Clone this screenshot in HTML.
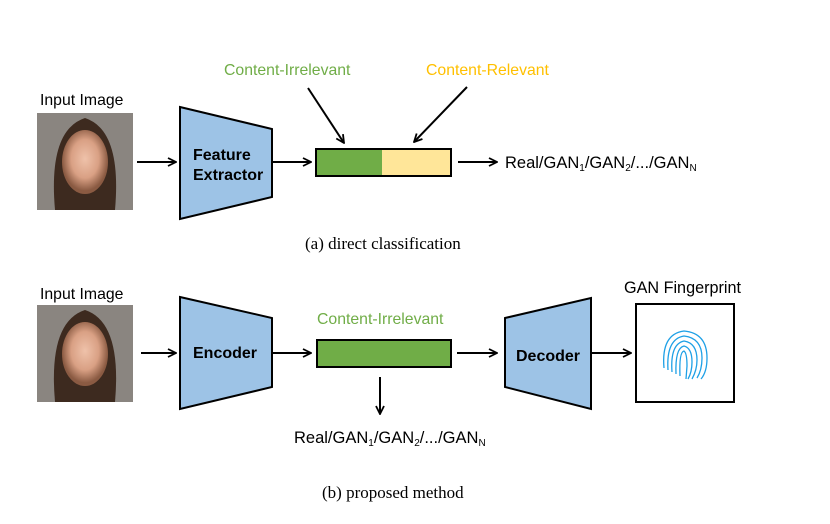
<!DOCTYPE html>
<html><head><style>
body{margin:0;background:#fff}
svg text{font-family:"Liberation Sans",sans-serif}
</style></head><body>
<svg width="830" height="519" viewBox="0 0 830 519" xmlns="http://www.w3.org/2000/svg">
<defs>
<marker id="a" markerWidth="10" markerHeight="10" refX="9" refY="5" orient="auto" markerUnits="userSpaceOnUse"><path d="M1,1 L9,5 L1,9" fill="none" stroke="#000" stroke-width="1.8"/></marker>
<radialGradient id="f" cx="50%" cy="45%" r="50%"><stop offset="0" stop-color="#efc2aa"/><stop offset="0.6" stop-color="#d9a084"/><stop offset="1" stop-color="#8a5a42"/></radialGradient>
</defs>
<g font-size="15.8">
<text x="40" y="105">Input Image</text>
<rect x="37" y="113" width="96" height="97" fill="#8a8580"/>
<path d="M55,210 Q48,130 85,118 Q122,130 115,210 Z" fill="#3d2a1f"/>
<ellipse cx="85" cy="162" rx="23" ry="32" fill="url(#f)"/>
<line x1="137" y1="162" x2="176" y2="162" stroke="#000" stroke-width="2" marker-end="url(#a)"/>
<polygon points="180,107 272,129 272,197 180,219" fill="#9dc3e6" stroke="#000" stroke-width="2"/>
<text x="193" y="160" font-weight="bold" font-size="16">Feature</text>
<text x="193" y="180" font-weight="bold" font-size="16">Extractor</text>
<line x1="273" y1="162" x2="311" y2="162" stroke="#000" stroke-width="2" marker-end="url(#a)"/>
<rect x="316" y="149" width="66" height="27" fill="#70ad47"/>
<rect x="382" y="149" width="69" height="27" fill="#ffe699"/>
<rect x="316" y="149" width="135" height="27" fill="none" stroke="#000" stroke-width="2"/>
<text x="224" y="75" fill="#70ad47">Content-Irrelevant</text>
<text x="426" y="75" fill="#ffc000">Content-Relevant</text>
<line x1="308" y1="88" x2="344" y2="143" stroke="#000" stroke-width="2" marker-end="url(#a)"/>
<line x1="467" y1="87" x2="414" y2="142" stroke="#000" stroke-width="2" marker-end="url(#a)"/>
<line x1="458" y1="162" x2="497" y2="162" stroke="#000" stroke-width="2" marker-end="url(#a)"/>
<text x="505" y="168" font-size="16.5">Real/GAN<tspan font-size="10" dy="3">1</tspan><tspan dy="-3">/GAN</tspan><tspan font-size="10" dy="3">2</tspan><tspan dy="-3">/.../GAN</tspan><tspan font-size="10" dy="3">N</tspan></text>
<text x="305" y="249" font-size="17" style="font-family:'Liberation Serif',serif">(a) direct classification</text>

<text x="40" y="299">Input Image</text>
<rect x="37" y="305" width="96" height="97" fill="#8a8580"/>
<path d="M55,402 Q48,322 85,310 Q122,322 115,402 Z" fill="#3d2a1f"/>
<ellipse cx="85" cy="354" rx="23" ry="32" fill="url(#f)"/>
<line x1="141" y1="353" x2="176" y2="353" stroke="#000" stroke-width="2" marker-end="url(#a)"/>
<polygon points="180,297 272,318 272,387 180,409" fill="#9dc3e6" stroke="#000" stroke-width="2"/>
<text x="193" y="358" font-weight="bold" font-size="16">Encoder</text>
<line x1="273" y1="353" x2="311" y2="353" stroke="#000" stroke-width="2" marker-end="url(#a)"/>
<rect x="317" y="340" width="134" height="27" fill="#70ad47" stroke="#000" stroke-width="2"/>
<text x="317" y="324" fill="#70ad47">Content-Irrelevant</text>
<line x1="380" y1="377" x2="380" y2="414" stroke="#000" stroke-width="2" marker-end="url(#a)"/>
<text x="294" y="443" font-size="16.5">Real/GAN<tspan font-size="10" dy="3">1</tspan><tspan dy="-3">/GAN</tspan><tspan font-size="10" dy="3">2</tspan><tspan dy="-3">/.../GAN</tspan><tspan font-size="10" dy="3">N</tspan></text>
<line x1="457" y1="353" x2="497" y2="353" stroke="#000" stroke-width="2" marker-end="url(#a)"/>
<polygon points="505,318 591,298 591,409 505,387" fill="#9dc3e6" stroke="#000" stroke-width="2"/>
<text x="516" y="361" font-weight="bold" font-size="16">Decoder</text>
<line x1="592" y1="353" x2="631" y2="353" stroke="#000" stroke-width="2" marker-end="url(#a)"/>
<text x="624" y="293" font-size="16.2">GAN Fingerprint</text>
<rect x="636" y="304" width="98" height="98" fill="#fff" stroke="#000" stroke-width="2"/>
<g fill="none" stroke="#1ea0e6" stroke-width="1.3">
<path d="M664,368 Q661,334 684,331 Q707,333 707,358 Q707,372 701,379"/>
<path d="M668,370 Q666,339 684,336 Q702,338 702,358 Q702,370 697,378"/>
<path d="M672,372 Q670,344 684,341 Q697,343 697,360 Q697,370 692,379"/>
<path d="M676,374 Q675,348 684,346 Q692,348 692,362 Q692,372 688,379"/>
<path d="M680,376 Q679,352 684,351 Q687,353 687,366 L686,379"/>
</g>
<text x="322" y="498" font-size="17" style="font-family:'Liberation Serif',serif">(b) proposed method</text>
</g>
</svg>
</body></html>
